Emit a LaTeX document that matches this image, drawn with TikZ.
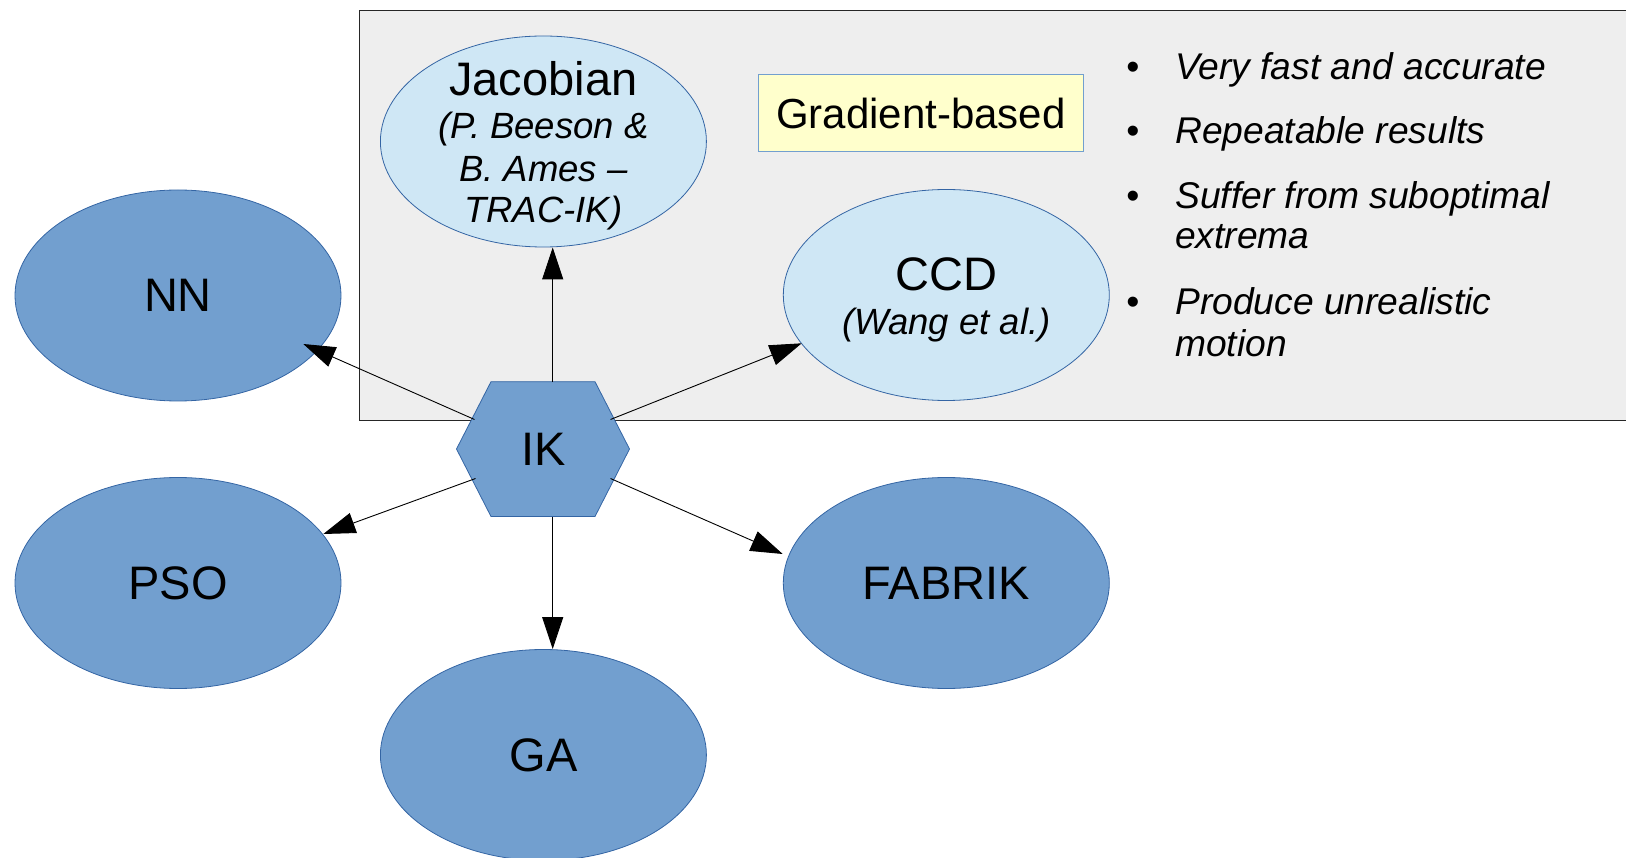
\documentclass[tikz,border=0pt]{standalone}
\usepackage{fontspec}
\setmainfont{Liberation Sans}
\usetikzlibrary{arrows.meta,shapes.geometric,calc}

\definecolor{nodeblue}{HTML}{729FCF}
\definecolor{edgeblue}{HTML}{3465A4}
\definecolor{paleblue}{HTML}{CFE7F5}
\definecolor{panelgray}{HTML}{EEEEEE}
\definecolor{noteyellow}{HTML}{FFFFCC}

% type sizes
\newcommand\mainlbl{\fontsize{47pt}{56pt}\selectfont}
\newcommand\sublbl{\fontsize{36.5pt}{44pt}\selectfont\itshape}
\newcommand\taglbl{\fontsize{42pt}{50pt}\selectfont}
\newcommand\listlbl{\fontsize{37.2pt}{44pt}\selectfont\itshape}

\begin{document}
\begin{tikzpicture}[x=1pt,y=-1pt,
  algo/.style={ellipse, draw=edgeblue, line width=0.8pt, fill=nodeblue,
    minimum width=326pt, minimum height=211pt, inner sep=0pt, font=\mainlbl},
  family/.style={ellipse, draw=edgeblue, line width=0.8pt, fill=paleblue,
    minimum width=326pt, minimum height=211pt, inner sep=0pt},
  txt/.style={inner sep=0pt, anchor=base},
  item/.style={inner sep=0pt, anchor=base west, font=\listlbl},
  dot/.style={inner sep=0pt, anchor=base, font=\listlbl},
  link/.style={draw=black, line width=0.9pt, -{Triangle[length=32pt,width=21pt]}}
]
\useasboundingbox (0,0) rectangle (1626,858);

% shaded panel of gradient-based methods
\fill[panelgray] (359.8,10.4) rectangle (1626,420.5);
\draw[line width=1.2pt, black!85] (1626,10.4) -- (359.8,10.4) -- (359.8,420.5) -- (1626,420.5);

% method ellipses
\node[family] (jac) at (543.4,141.5) {};
\node[family] (ccd) at (946.3,295) {};
\node[algo] (nn) at (178,295.5) {NN};
\node[algo] (pso) at (178,583) {PSO};
\node[algo] (ga) at (543.4,755) {GA};
\node[algo] (fabrik) at (946.3,583) {FABRIK};

% central hexagon
\draw[edgeblue, fill=nodeblue, line width=0.8pt]
  (456.5,449) -- (491,381.7) -- (595,381.7) -- (629.5,449)
  -- (595,516.5) -- (491,516.5) -- cycle;
\node[font=\mainlbl, inner sep=0pt] (ik) at (544,449) {IK};

% glue points on the hexagon
\coordinate (ikUL) at (474.5,419.5);
\coordinate (ikUR) at (610.5,419.5);
\coordinate (ikLL) at (475.5,478.5);
\coordinate (ikLR) at (610.5,478.5);
\coordinate (ikT) at (552.7,381.7);
\coordinate (ikB) at (552.7,516.5);

% category tag
\node[draw=nodeblue, fill=noteyellow, line width=0.8pt, minimum width=325.6pt,
  minimum height=76.7pt, inner sep=0pt, font=\taglbl] (grad) at (920.8,113) {Gradient-based};

% ellipse captions
\node[txt, font=\mainlbl] (jacT) at (543.4,96) {Jacobian};
\node[txt, font=\sublbl] (jacA) at (543.4,139) {(P. Beeson \&};
\node[txt, font=\sublbl] (jacB) at (543.4,181.5) {B. Ames –};
\node[txt, font=\sublbl] (jacC) at (543.4,223) {TRAC-IK)};
\node[txt, font=\mainlbl] (ccdT) at (946.3,291) {CCD};
\node[txt, font=\sublbl] (ccdA) at (946.3,335) {(Wang et al.)};

% properties list
\node[dot] (b1) at (1133.3,80) {•};
\node[item] (l1) at (1175,80) {Very fast and accurate};
\node[dot] (b2) at (1133.3,144) {•};
\node[item] (l2) at (1175,144) {Repeatable results};
\node[dot] (b3) at (1133.3,208.3) {•};
\node[item] (l3) at (1175,208.3) {Suffer from suboptimal};
\node[item] (l3b) at (1175,248.3) {extrema};
\node[dot] (b4) at (1133.3,315) {•};
\node[item] (l4) at (1175,315) {Produce unrealistic};
\node[item] (l4b) at (1175,356.7) {motion};

% connectors, ending at the glue points of each ellipse
\draw[link] (ikUL) -- ($(nn.center)+(125.3,48.5)$);
\draw[link] (ikUR) -- ($(ccd.center)+(-144.6,48.3)$);
\draw[link] (ikLL) -- ($(pso.center)+(145.3,-49)$);
\draw[link] (ikLR) -- ($(fabrik.center)+(-163.6,-29)$);
\draw[link] (ikT) -- (ikT |- jac.south);
\draw[link] (ikB) -- (ikB |- ga.north);
\end{tikzpicture}
\end{document}
